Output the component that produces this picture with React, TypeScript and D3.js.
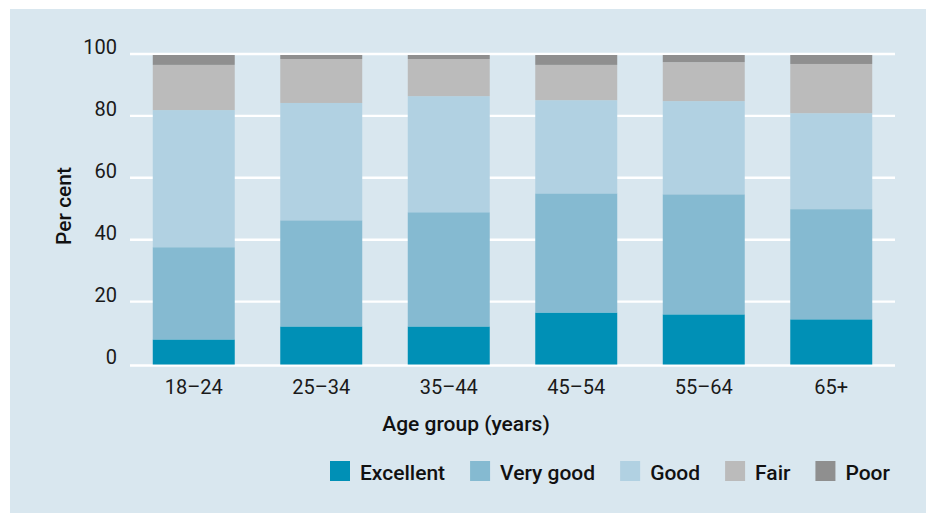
import React, { useEffect, useRef, useState } from "react";
import * as d3 from "d3";

const categories = ["18–24", "25–34", "35–44", "45–54", "55–64", "65+"];
const seriesNames = ["Excellent", "Very good", "Good", "Fair", "Poor"];
const excellent = [8.1, 12.3, 12.3, 16.8, 16.2, 14.6];
const veryGood = [29.8, 34.3, 36.9, 38.5, 38.8, 35.6];
const good = [44.3, 37.9, 37.5, 30.1, 30.1, 31.0];
const fair = [14.6, 14.2, 12.0, 11.4, 12.6, 15.9];
const poor = [3.2, 1.3, 1.3, 3.2, 2.3, 2.9];
const yTicks = [0, 20, 40, 60, 80, 100];
const colors = ["#0090b6", "#85bad1", "#b1d1e2", "#bbbbbb", "#8f8f8f"];

const W = 933;
const H = 513;
const FONT = "Roboto, 'DejaVu Sans', sans-serif";

export default function App() {
  const seriesValues = [excellent, veryGood, good, fair, poor];
  const rows = categories.map((c, i) => {
    const r: any = { cat: c };
    seriesNames.forEach((s, j) => (r[s] = seriesValues[j][i]));
    return r;
  });
  const stacked = d3.stack().keys(seriesNames)(rows as any);

  const x = d3.scaleBand<string>().domain(categories).range([130, 895]).paddingInner(0.357).paddingOuter(0.1785);
  const y = d3.scaleLinear().domain([0, 100]).range([364.5, 55]);

  const legendRef = useRef<SVGGElement>(null);
  const [widths, setWidths] = useState<number[]>([]);
  useEffect(() => {
    if (!legendRef.current) return;
    const texts = legendRef.current.querySelectorAll("text");
    const w = Array.from(texts).map((t) => (t as SVGTextElement).getComputedTextLength());
    if (w.join() !== widths.join()) setWidths(w);
  });

  const legendX: number[] = [];
  let cx = 330;
  seriesNames.forEach((_, i) => {
    legendX.push(cx);
    cx += 20 + 10 + (widths[i] || 80) + 25;
  });

  return (
    <svg width={W} height={H} style={{ position: "fixed", left: 0, top: 0, display: "block" }} fontFamily={FONT}>
      <rect x={10} y={9} width={916} height={H - 9} fill="#d9e7ef" />
      {yTicks.map((t) => (
        <g key={t}>
          <line x1={130} x2={895} y1={y(t) + (t === 0 ? 1 : -1)} y2={y(t) + (t === 0 ? 1 : -1)} stroke="#ffffff" strokeWidth={2.4} />
          <text x={117} y={y(t) - 1} textAnchor="end" fontSize={20} fill="#1a1a1a">
            {t}
          </text>
        </g>
      ))}
      {stacked.map((s, j) => (
        <g key={s.key} fill={colors[j]}>
          {s.map((d: any, i: number) => (
            <rect
              key={i}
              x={x(categories[i])}
              width={x.bandwidth()}
              y={y(d[1])}
              height={y(d[0]) - y(d[1])}
            />
          ))}
        </g>
      ))}
      {categories.map((c) => (
        <text key={c} x={(x(c) as number) + x.bandwidth() / 2} y={394} textAnchor="middle" fontSize={20} fill="#1a1a1a">
          {c}
        </text>
      ))}
      <text x={466} y={431} textAnchor="middle" fontSize={21} fontWeight={500} fill="#111">
        Age group (years)
      </text>
      <text transform="translate(71,206) rotate(-90)" textAnchor="middle" fontSize={21} fontWeight={500} fill="#111">
        Per cent
      </text>
      <g ref={legendRef}>
        {seriesNames.map((s, i) => (
          <g key={s}>
            <rect x={legendX[i]} y={461} width={20} height={20} fill={colors[i]} />
            <text x={legendX[i] + 30} y={480} fontSize={21} fontWeight={500} fill="#111">
              {s}
            </text>
          </g>
        ))}
      </g>
    </svg>
  );
}
